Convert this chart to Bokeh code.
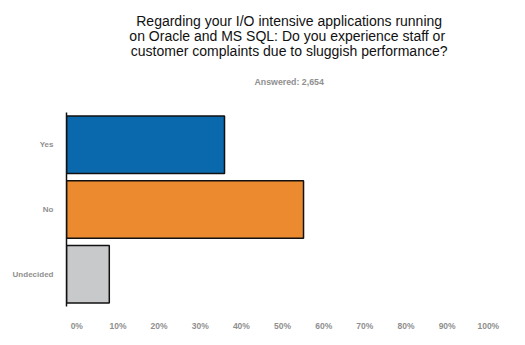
from bokeh.plotting import figure
from bokeh.models import Range1d, FactorRange, Label, FixedTicker
from bokeh.layouts import column
from bokeh.embed import file_html
from bokeh.resources import INLINE

# ---- data ----
categories = ["Yes", "No", "Undecided"]
percent = [35.9, 55.1, 7.9]
colors = ["#0a69ad", "#ec8a2f", "#c8c9cb"]
tick_values = [0, 10, 20, 30, 40, 50, 60, 70, 80, 90, 100]
tick_labels = ["0%", "10%", "20%", "30%", "40%", "50%", "60%", "70%", "80%", "90%", "100%"]
title_lines = [
    "Regarding your I/O intensive applications running",
    "on Oracle and MS SQL:  Do you experience staff or",
    "customer complaints due to sluggish performance?",
]
answered = "Answered: 2,654"

X_START = -2.5
X_END = 100.05

# ---- header (title block) ----
W, HEAD_H = 525, 100
head = figure(width=W, height=HEAD_H, x_range=Range1d(0, W), y_range=Range1d(HEAD_H, 0),
              x_axis_type=None, y_axis_type=None, output_backend="svg",
              toolbar_location=None, min_border=0, title=None)
head.outline_line_color = None
head.grid.visible = False
for i, line in enumerate(title_lines):
    head.add_layout(Label(x=277, y=20 + 15 * i, text=line, text_align="center",
                          text_baseline="middle", text_font="Liberation Sans",
                          text_font_size="14px", text_color="#111111"))
head.add_layout(Label(x=277, y=81, text=answered, text_align="center",
                      text_baseline="middle", text_font="Liberation Sans",
                      text_font_style="bold", text_font_size="8.8px",
                      text_color="#8f8f8f"))

# ---- bar chart ----
p = figure(
    width=W, height=345 - HEAD_H, title=None,
    y_range=FactorRange(factors=list(reversed(categories)), range_padding=0),
    x_range=Range1d(X_START, X_END),
    output_backend="svg", toolbar_location=None,
    min_border_left=66, min_border_right=37, min_border_top=12, min_border_bottom=39,
)
p.outline_line_color = None
p.grid.visible = False

p.hbar(y=categories, left=X_START, right=percent, height=0.89,
       fill_color=colors, line_color="#111111", line_width=1.5)

xa = p.xaxis[0]
xa.ticker = FixedTicker(ticks=tick_values)
xa.major_label_overrides = {v: s for v, s in zip(tick_values, tick_labels)}
xa.axis_line_color = None
xa.major_tick_line_color = None
xa.minor_tick_line_color = None
xa.major_tick_out = 0
xa.major_tick_in = 0
xa.major_label_standoff = 14
xa.major_label_text_font = "Liberation Sans"
xa.major_label_text_font_style = "bold"
xa.major_label_text_font_size = "8.5px"
xa.major_label_text_color = "#8f8f8f"

ya = p.yaxis[0]
ya.axis_line_color = "#111111"
ya.axis_line_width = 1.5
ya.major_tick_line_color = None
ya.minor_tick_line_color = None
ya.major_tick_out = 0
ya.major_tick_in = 0
ya.major_label_standoff = 13
ya.major_label_text_font = "Liberation Sans"
ya.major_label_text_font_style = "bold"
ya.major_label_text_font_size = "8px"
ya.major_label_text_color = "#8f8f8f"

layout = column(head, p, spacing=0)
open("out.html", "w").write(file_html(layout, INLINE))
